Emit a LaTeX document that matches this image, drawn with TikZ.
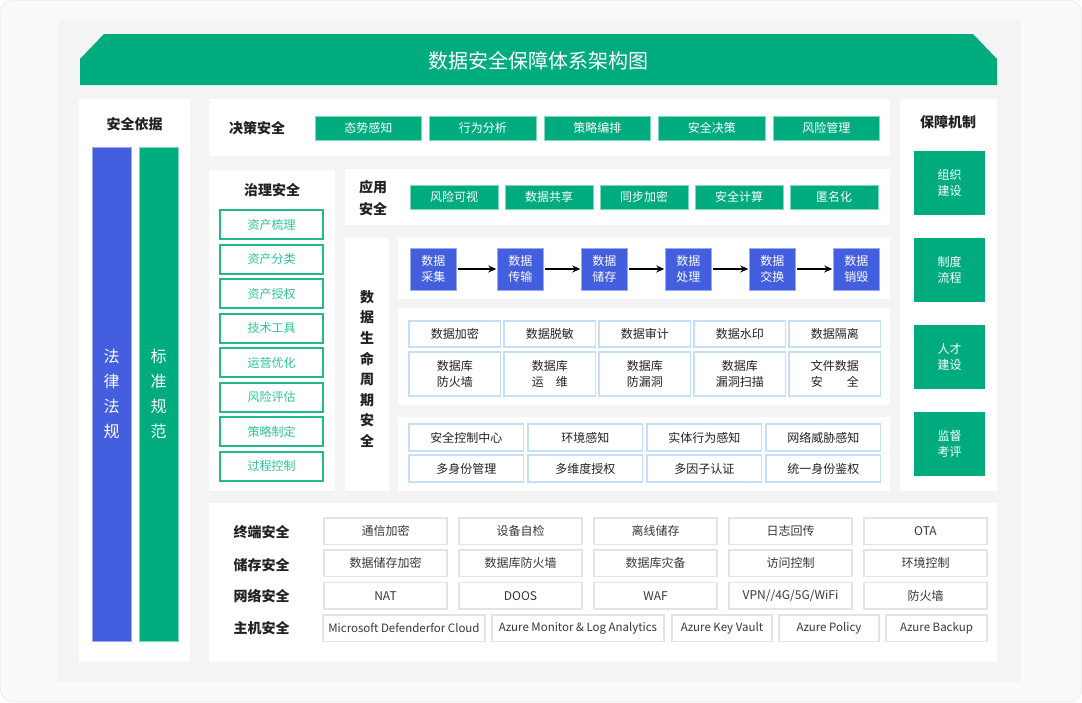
\documentclass[tikz,border=0pt]{standalone}
\usepackage{fontspec}
\setmainfont{Noto Sans CJK SC}
\usepackage{tikz}
\usetikzlibrary{arrows.meta,positioning}
\definecolor{mainGreen}{HTML}{00AB7E}
\definecolor{greenEdge}{HTML}{7FD9BC}
\definecolor{govGreen}{HTML}{23B98B}
\definecolor{govText}{HTML}{2DC596}
\definecolor{stageBlue}{HTML}{435EDE}
\definecolor{stageEdge}{HTML}{9AAAF0}
\definecolor{paleBlue}{HTML}{C6DFF8}
\definecolor{lineGray}{HTML}{E4E4E4}
\definecolor{panelGray}{HTML}{F4F4F4}
\definecolor{cardFill}{HTML}{FAFAFA}
\definecolor{cardLine}{HTML}{DCDCDC}
\definecolor{ink}{HTML}{222222}
\newcommand\lblfont{\fontsize{12}{16}\selectfont}
\tikzstyle{every node}=[inner sep=0pt,outer sep=0pt]

\begin{document}
\begin{tikzpicture}[x=1pt,y=-1pt,>={Stealth[length=8pt,width=7pt]},shorten >=1pt,
                    font=\lblfont,text=ink]
  \tikzstyle{heading}=[font=\fontsize{14}{22}\selectfont\bfseries,text=ink,align=center]
  \tikzstyle{decbox}=[fill=mainGreen,draw=greenEdge,line width=0.8pt,text=white,
                      minimum width=106.5pt,minimum height=24pt]
  \tikzstyle{appbox}=[decbox,minimum width=88pt]
  \tikzstyle{govbox}=[fill=white,draw=govGreen,line width=2pt,text=govText,
                      minimum width=103pt,minimum height=29pt]
  \tikzstyle{stagebox}=[fill=stageBlue,draw=stageEdge,line width=0.8pt,text=white,
                        align=center,minimum width=46pt,minimum height=42pt]
  \tikzstyle{toolbox}=[fill=white,draw=paleBlue,line width=1.2pt,align=center,
                       minimum width=91.5pt]
  \tikzstyle{sensebox}=[toolbox,minimum width=114.5pt,minimum height=27pt]
  \tikzstyle{mechbox}=[fill=mainGreen,text=white,align=center,
                       minimum width=71pt,minimum height=64pt]
  \tikzstyle{basebox}=[fill=white,draw=lineGray,line width=1.5pt,text=ink!90,
                       minimum width=123pt,minimum height=26.5pt]
  \tikzstyle{hostbox}=[basebox,font=\fontsize{11.5}{14}\selectfont]
  \tikzstyle{bar}=[line width=0.8pt,text=white,align=center,minimum width=39pt,
                   minimum height=494pt,font=\fontsize{16}{25}\selectfont]

  \useasboundingbox (0,0) rectangle (1082,702);
  % card and background
  \draw[fill=cardFill,draw=cardLine,rounded corners=12pt] (0.5,0.5) rectangle (1081.5,701.5);
  \fill[panelGray] (58,20) rectangle (1021,682);
  \fill[mainGreen] (80,85) -- (80,59) -- (104,34) -- (973,34) -- (997,59) -- (997,85) -- cycle;
  \node[text=white,font=\fontsize{20}{24}\selectfont] (title) at (538.5,61) {数据安全保障体系架构图};

  % white panels
  \fill[white] (79,99) rectangle (190,662);
  \fill[white] (209,99) rectangle (890,156);
  \fill[white] (209,170) rectangle (335,491);
  \fill[white] (345,169) rectangle (890,225);
  \fill[white] (345,238) rectangle (389,491);
  \fill[white] (398,238) rectangle (890,299);
  \fill[white] (398,308) rectangle (890,405);
  \fill[white] (398,417) rectangle (890,491);
  \fill[white] (900,99) rectangle (997,491);
  \fill[white] (209,503) rectangle (997,662);

  % basis
  \node[heading] (basisTitle) at (134.5,124) {安全依据};
  \node[bar,fill=stageBlue,draw=stageEdge] (law) at (111.5,394) {法\\律\\法\\规};
  \node[bar,fill=mainGreen,draw=greenEdge] (norm) at (158.5,394) {标\\准\\规\\范};

  % decision
  \node[heading] (decTitle) at (257,128) {决策安全};
  \node[decbox] (situ) at (368.25,128) {态势感知};
  \node[decbox,right=8pt of situ] (behav) {行为分析};
  \node[decbox,right=8pt of behav] (orch) {策略编排};
  \node[decbox,right=8pt of orch] (decide) {安全决策};
  \node[decbox,right=8pt of decide] (riskmgt) {风险管理};

  % governance
  \node[heading] (govTitle) at (272,190) {治理安全};
  \node[govbox] (sort) at (271.5,224.5) {资产梳理};
  \node[govbox,below=5.5pt of sort] (classify) {资产分类};
  \node[govbox,below=5.5pt of classify] (grant) {资产授权};
  \node[govbox,below=5.5pt of grant] (tools) {技术工具};
  \node[govbox,below=5.5pt of tools] (ops) {运营优化};
  \node[govbox,below=5.5pt of ops] (assess) {风险评估};
  \node[govbox,below=5.5pt of assess] (policy) {策略制定};
  \node[govbox,below=5.5pt of policy] (control) {过程控制};

  % application
  \node[heading] (appTitle) at (373,198) {应用\\安全};
  \node[appbox] (visual) at (454,197) {风险可视};
  \node[appbox,right=7pt of visual] (share) {数据共享};
  \node[appbox,right=7pt of share] (syncenc) {同步加密};
  \node[appbox,right=7pt of syncenc] (seccalc) {安全计算};
  \node[appbox,right=7pt of seccalc] (anon) {匿名化};

  % lifecycle
  \node[heading,font=\fontsize{14}{20.6}\selectfont\bfseries] (lifeTitle) at (367,369)
       {数\\据\\生\\命\\周\\期\\安\\全};
  \node[stagebox] (collect) at (433.25,269) {数据\\采集};
  \node[stagebox,right=41pt of collect] (transfer) {数据\\传输};
  \node[stagebox,right=38pt of transfer] (store) {数据\\储存};
  \node[stagebox,right=38pt of store] (process) {数据\\处理};
  \node[stagebox,right=38pt of process] (exchange) {数据\\交换};
  \node[stagebox,right=38pt of exchange] (destroy) {数据\\销毁};

  \path[->,draw=black,line width=1.4pt,shorten <=1.5pt]
        (collect) edge (transfer)
        (transfer) edge (store)
        (store) edge (process)
        (process) edge (exchange)
        (exchange) edge (destroy);

  \node[toolbox,minimum height=26pt] (enc) at (454.75,334) {数据加密};
  \node[toolbox,minimum height=26pt,right=3.5pt of enc] (mask) {数据脱敏};
  \node[toolbox,minimum height=26pt,right=3.5pt of mask] (audit) {数据审计};
  \node[toolbox,minimum height=26pt,right=3.5pt of audit] (mark) {数据水印};
  \node[toolbox,minimum height=26pt,right=3.5pt of mark] (isolate) {数据隔离};
  \node[toolbox,minimum height=44pt,below=5pt of enc] (dbwall) {数据库\\防火墙};
  \node[toolbox,minimum height=44pt,below=5pt of mask] (dbops) {数据库\\运　维};
  \node[toolbox,minimum height=44pt,below=5pt of audit] (dbleak) {数据库\\防漏洞};
  \node[toolbox,minimum height=44pt,below=5pt of mark] (dbscan) {数据库\\漏洞扫描};
  \node[toolbox,minimum height=44pt,below=5pt of isolate] (filesec) {文件数据\\安　　全};

  \node[sensebox] (center) at (466.25,437.5) {安全控制中心};
  \node[sensebox,right=4.5pt of center] (envsense) {环境感知};
  \node[sensebox,right=4.5pt of envsense] (entity) {实体行为感知};
  \node[sensebox,right=4.5pt of entity] (threat) {网络威胁感知};
  \node[sensebox,below=4pt of center] (multiid) {多身份管理};
  \node[sensebox,below=4pt of envsense] (multiauth) {多维度授权};
  \node[sensebox,below=4pt of entity] (mfa) {多因子认证};
  \node[sensebox,below=4pt of threat] (unified) {统一身份鉴权};

  % mechanism
  \node[heading] (mechTitle) at (948,122) {保障机制};
  \node[mechbox] (org) at (949.5,183) {组织\\建设};
  \node[mechbox,below=23pt of org] (rules) {制度\\流程};
  \node[mechbox,below=23pt of rules] (talent) {人才\\建设};
  \node[mechbox,below=23pt of talent] (supervise) {监督\\考评};

  % base layers
  \node[heading] (termTitle) at (261.5,532.5) {终端安全};
  \node[heading] (storeTitle) at (261.5,565.5) {储存安全};
  \node[heading] (netTitle) at (261.5,596) {网络安全};
  \node[heading] (hostTitle) at (261.5,628) {主机安全};

  \node[basebox] (commenc) at (385.5,531) {通信加密};
  \node[basebox,right=12pt of commenc] (selfcheck) {设备自检};
  \node[basebox,right=12pt of selfcheck] (offline) {离线储存};
  \node[basebox,right=12pt of offline] (logback) {日志回传};
  \node[basebox,right=12pt of logback] (ota) {OTA};
  \node[basebox,below=5.8pt of commenc] (storeenc) {数据储存加密};
  \node[basebox,below=5.8pt of selfcheck] (dbfire) {数据库防火墙};
  \node[basebox,below=5.8pt of offline] (dbbackup) {数据库灾备};
  \node[basebox,below=5.8pt of logback] (access) {访问控制};
  \node[basebox,below=5.8pt of ota] (envctl) {环境控制};
  \node[basebox,below=5.8pt of storeenc] (nat) {NAT};
  \node[basebox,below=5.8pt of dbfire] (doos) {DOOS};
  \node[basebox,below=5.8pt of dbbackup] (waf) {WAF};
  \node[basebox,below=5.8pt of access] (vpn) {VPN//4G/5G/WiFi};
  \node[basebox,below=5.8pt of envctl] (firewall) {防火墙};

  \node[hostbox,minimum width=162pt] (defender) at (404,628) {Microsoft Defenderfor Cloud};
  \node[hostbox,minimum width=172pt,right=7pt of defender] (monitor) {Azure Monitor \& Log Analytics};
  \node[hostbox,minimum width=100pt,right=8pt of monitor] (keyvault) {Azure Key Vault};
  \node[hostbox,minimum width=100pt,right=7pt of keyvault] (azpolicy) {Azure Policy};
  \node[hostbox,minimum width=101pt,right=7pt of azpolicy] (azbackup) {Azure Backup};
\end{tikzpicture}
\end{document}
